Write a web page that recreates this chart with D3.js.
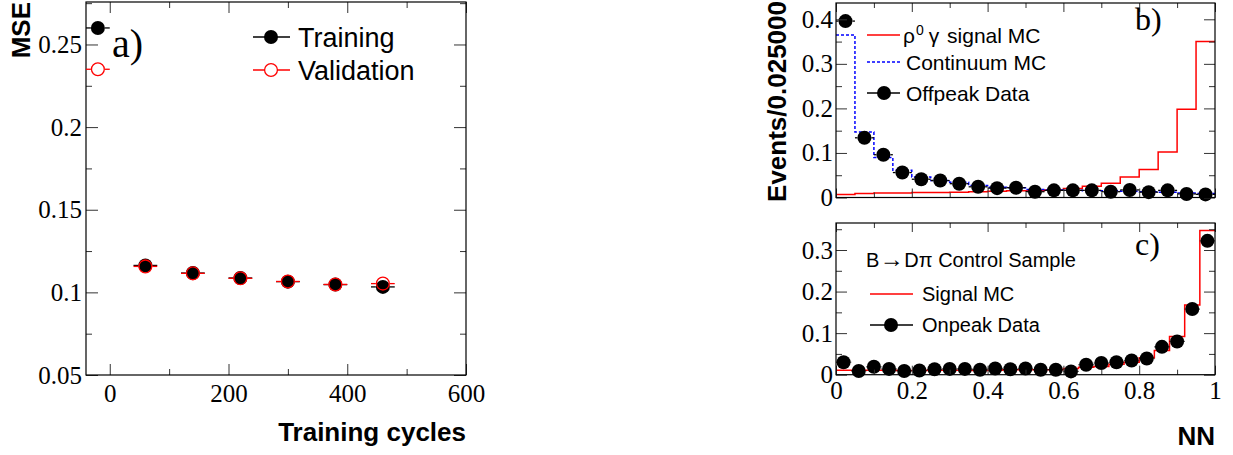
<!DOCTYPE html>
<html>
<head>
<meta charset="utf-8">
<script src="https://cdn.jsdelivr.net/npm/d3@7"></script>
<style>
  html, body { margin: 0; padding: 0; background: #fff; }
  svg { display: block; }
</style>
</head>
<body>
<script>
// ---- Panel a: neural-network training history ----
const cycles         = [-20, 60, 140, 220, 300, 380, 460];
const mseTraining    = [0.260, 0.1163, 0.1117, 0.1087, 0.1065, 0.1047, 0.1033];
const mseValidation  = [0.235, 0.1157, 0.1115, 0.1085, 0.1066, 0.1048, 0.1053];
const cycleHalfWidth = 20;
const cycleTicks      = [0, 200, 400, 600];
const cycleMinorTicks = [100, 300, 500];
const mseTicks        = [0.05, 0.1, 0.15, 0.2, 0.25];
const mseMinorTicks   = [0.075, 0.125, 0.175, 0.225, 0.275];

// ---- Panel b: NN output, rho0 gamma signal vs continuum ----
const nnEdgesB = [0, 0.05, 0.1, 0.15, 0.2, 0.25, 0.3, 0.35, 0.4, 0.45, 0.5,
                  0.55, 0.6, 0.65, 0.7, 0.75, 0.8, 0.85, 0.9, 0.95, 1];
const signalB    = [0.007, 0.009, 0.010, 0.010, 0.011, 0.011, 0.012, 0.013, 0.014, 0.015,
                    0.015, 0.017, 0.020, 0.025, 0.032, 0.046, 0.063, 0.102, 0.198, 0.350];
const continuumB = [0.365, 0.147, 0.090, 0.061, 0.046, 0.038, 0.034, 0.027, 0.023, 0.022,
                    0.018, 0.017, 0.016, 0.015, 0.015, 0.014, 0.013, 0.012, 0.010, 0.009];
const offpeakB   = [0.396, 0.134, 0.096, 0.056, 0.041, 0.038, 0.031, 0.024, 0.021, 0.022,
                    0.013, 0.016, 0.016, 0.016, 0.013, 0.017, 0.012, 0.016, 0.008, 0.007];
const eventsTicksB      = [0, 0.1, 0.2, 0.3, 0.4];
const eventsMinorTicksB = [0.05, 0.15, 0.25, 0.35];

// ---- Panel c: B -> D pi control sample ----
const nnEdgesC = [0, 0.04, 0.08, 0.12, 0.16, 0.2, 0.24, 0.28, 0.32, 0.36, 0.4, 0.44, 0.48,
                  0.52, 0.56, 0.6, 0.64, 0.68, 0.72, 0.76, 0.8, 0.84, 0.88, 0.92, 0.96, 1];
const signalC = [0.011, 0.011, 0.011, 0.011, 0.010, 0.010, 0.011, 0.011, 0.011, 0.010,
                 0.011, 0.012, 0.012, 0.012, 0.012, 0.015, 0.018, 0.020, 0.025, 0.030,
                 0.041, 0.058, 0.092, 0.168, 0.347];
const onpeakC = [0.030, 0.009, 0.019, 0.014, 0.009, 0.010, 0.013, 0.014, 0.014, 0.012,
                 0.015, 0.013, 0.015, 0.012, 0.012, 0.008, 0.024, 0.028, 0.030, 0.034,
                 0.039, 0.067, 0.080, 0.158, 0.322];
const eventsTicksC      = [0, 0.1, 0.2, 0.3];
const eventsMinorTicksC = [0.05, 0.15, 0.25, 0.35];
const nnTicks      = [0, 0.2, 0.4, 0.6, 0.8, 1];
const nnMinorTicks = [0.1, 0.3, 0.5, 0.7, 0.9];

const SERIF = "'Liberation Serif', 'Times New Roman', serif";
const SANS  = "'Liberation Sans', Arial, Helvetica, sans-serif";
const RED = "#ff0000", BLUE = "#0000ff";

const svg = d3.select("body").append("svg")
  .attr("width", 1233).attr("height", 455);
svg.append("rect").attr("width", 1233).attr("height", 455).attr("fill", "#fff");

const fmt = d => String(+d.toFixed(3));

// Draws a framed box with inward ticks on all four sides.
function drawFrame(g, x, y, o) {
  const [x0, x1] = x.range();
  const [y1, y0] = y.range();
  const style = sel => {
    sel.select(".domain").remove();
    sel.selectAll(".tick line").attr("stroke", "#333").attr("stroke-width", 1);
    sel.selectAll(".tick text")
      .attr("font-family", SERIF).attr("font-size", 25).attr("fill", "#000");
  };
  // left
  g.append("g").attr("transform", `translate(${x0},0)`)
    .call(d3.axisLeft(y).tickValues(o.yMajor).tickSize(-o.yMajorLen)
      .tickPadding(o.yPad).tickFormat(fmt)).call(style);
  g.append("g").attr("transform", `translate(${x0},0)`)
    .call(d3.axisLeft(y).tickValues(o.yMinor).tickSize(-o.yMinorLen).tickFormat(""))
    .call(style);
  // right
  g.append("g").attr("transform", `translate(${x1},0)`)
    .call(d3.axisRight(y).tickValues(o.yMajor).tickSize(-o.yMajorLen).tickFormat(""))
    .call(style);
  g.append("g").attr("transform", `translate(${x1},0)`)
    .call(d3.axisRight(y).tickValues(o.yMinor).tickSize(-o.yMinorLen).tickFormat(""))
    .call(style);
  // bottom
  const bottom = d3.axisBottom(x).tickValues(o.xMajor).tickSize(-o.xMajorLen)
    .tickPadding(o.xPad).tickFormat(o.xLabels ? fmt : "");
  g.append("g").attr("transform", `translate(0,${y1})`).call(bottom).call(style);
  g.append("g").attr("transform", `translate(0,${y1})`)
    .call(d3.axisBottom(x).tickValues(o.xMinor).tickSize(-o.xMinorLen).tickFormat(""))
    .call(style);
  // top
  g.append("g").attr("transform", `translate(0,${y0})`)
    .call(d3.axisTop(x).tickValues(o.xMajor).tickSize(-o.xMajorLen).tickFormat(""))
    .call(style);
  g.append("g").attr("transform", `translate(0,${y0})`)
    .call(d3.axisTop(x).tickValues(o.xMinor).tickSize(-o.xMinorLen).tickFormat(""))
    .call(style);
  g.append("rect").attr("x", x0).attr("y", y0)
    .attr("width", x1 - x0).attr("height", y1 - y0)
    .attr("fill", "none").attr("stroke", "#000").attr("stroke-width", 1.2);
}

// Step outline of a binned histogram.
function histPath(x, y, edges, values) {
  const pts = [];
  values.forEach((v, i) => { pts.push([edges[i], v]); pts.push([edges[i + 1], v]); });
  return d3.line().x(d => x(d[0])).y(d => y(d[1]))(pts);
}

// Points with horizontal error bars (bars drawn outside the marker).
function drawPoints(g, x, y, xs, vals, halfW, r, color, filled) {
  const pg = g.append("g");
  xs.forEach((xv, i) => {
    const cx = x(xv), cy = y(vals[i]);
    const xl = x(xv - halfW), xr = x(xv + halfW);
    if (cx - r > xl) pg.append("line").attr("x1", xl).attr("x2", cx - r)
      .attr("y1", cy).attr("y2", cy).attr("stroke", color).attr("stroke-width", 1.3);
    if (xr > cx + r) pg.append("line").attr("x1", cx + r).attr("x2", xr)
      .attr("y1", cy).attr("y2", cy).attr("stroke", color).attr("stroke-width", 1.3);
    pg.append("circle").attr("cx", cx).attr("cy", cy).attr("r", filled ? r : r - 0.6)
      .attr("fill", filled ? color : "none")
      .attr("stroke", color).attr("stroke-width", filled ? 0 : 1.3);
  });
}

// ================= Panel a =================
{
  const x = d3.scaleLinear().domain([-40, 600]).range([86, 466]);
  const y = d3.scaleLinear().domain([0.05, 0.2757]).range([375, 2]);
  const g = svg.append("g");
  drawFrame(g, x, y, {
    yMajor: mseTicks, yMinor: mseMinorTicks, yMajorLen: 12, yMinorLen: 6, yPad: 4,
    xMajor: cycleTicks, xMinor: cycleMinorTicks, xMajorLen: 11, xMinorLen: 6, xPad: 9,
    xLabels: true
  });
  drawPoints(g, x, y, cycles, mseTraining, cycleHalfWidth, 7, "#000", true);
  drawPoints(g, x, y, cycles, mseValidation, cycleHalfWidth, 7, RED, false);

  g.append("text").attr("x", 112).attr("y", 57)
    .attr("font-family", SERIF).attr("font-size", 40).text("a)");

  // legend
  const leg = [
    { label: "Training", color: "#000", filled: true, cy: 37 },
    { label: "Validation", color: RED, filled: false, cy: 70 }
  ];
  leg.forEach(d => {
    g.append("line").attr("x1", 253).attr("x2", 290).attr("y1", d.cy).attr("y2", d.cy)
      .attr("stroke", d.color).attr("stroke-width", 1.3);
    g.append("circle").attr("cx", 271).attr("cy", d.cy).attr("r", d.filled ? 7 : 6.4)
      .attr("fill", d.filled ? d.color : "#fff").attr("stroke", d.color)
      .attr("stroke-width", d.filled ? 0 : 1.3);
    g.append("text").attr("x", 298).attr("y", d.cy + 9.5)
      .attr("font-family", SANS).attr("font-size", 27).text(d.label);
  });

  g.append("text").attr("x", 466).attr("y", 441).attr("text-anchor", "end")
    .attr("font-family", SANS).attr("font-weight", "bold").attr("font-size", 26)
    .text("Training cycles");
  g.append("text").attr("transform", "translate(29.5,2) rotate(-90)")
    .attr("text-anchor", "end")
    .attr("font-family", SANS).attr("font-weight", "bold").attr("font-size", 26)
    .text("MSE");
}

// ================= Panel b =================
{
  const x = d3.scaleLinear().domain([0, 1]).range([836, 1215]);
  const y = d3.scaleLinear().domain([0, 0.4366]).range([197.5, 3]);
  const g = svg.append("g");
  svg.append("clipPath").attr("id", "clipB").append("rect")
    .attr("x", 836).attr("y", 3).attr("width", 379).attr("height", 194.5);
  const plot = g.append("g").attr("clip-path", "url(#clipB)");
  plot.append("path").attr("d", histPath(x, y, nnEdgesB, signalB))
    .attr("fill", "none").attr("stroke", RED).attr("stroke-width", 1.5);
  plot.append("path").attr("d", histPath(x, y, nnEdgesB, continuumB))
    .attr("fill", "none").attr("stroke", BLUE).attr("stroke-width", 1.5)
    .attr("stroke-dasharray", "3,2");
  const centers = offpeakB.map((_, i) => (nnEdgesB[i] + nnEdgesB[i + 1]) / 2);
  drawPoints(g, x, y, centers, offpeakB, 0.025, 7, "#000", true);

  drawFrame(g, x, y, {
    yMajor: eventsTicksB, yMinor: eventsMinorTicksB, yMajorLen: 11, yMinorLen: 6, yPad: 3,
    xMajor: nnTicks, xMinor: nnMinorTicks, xMajorLen: 9, xMinorLen: 5, xPad: 6,
    xLabels: false
  });

  g.append("text").attr("x", 1135).attr("y", 30)
    .attr("font-family", SERIF).attr("font-size", 32).text("b)");

  // legend
  g.append("line").attr("x1", 867).attr("x2", 900).attr("y1", 35).attr("y2", 35)
    .attr("stroke", RED).attr("stroke-width", 1.5);
  const t1 = g.append("text").attr("x", 903).attr("y", 42.5)
    .attr("font-family", SANS).attr("font-size", 21);
  t1.append("tspan").text("ρ");
  t1.append("tspan").attr("dx", 1).attr("dy", -8).attr("font-size", 14).text("0");
  t1.append("tspan").attr("dx", 5).attr("dy", 8).text("γ");
  t1.append("tspan").attr("dx", 2).text(" signal MC");

  g.append("line").attr("x1", 867).attr("x2", 900).attr("y1", 62).attr("y2", 62)
    .attr("stroke", BLUE).attr("stroke-width", 1.5).attr("stroke-dasharray", "3,2");
  g.append("text").attr("x", 906).attr("y", 69.5)
    .attr("font-family", SANS).attr("font-size", 21).text("Continuum MC");

  g.append("line").attr("x1", 867).attr("x2", 900).attr("y1", 93).attr("y2", 93)
    .attr("stroke", "#000").attr("stroke-width", 1.3);
  g.append("circle").attr("cx", 884).attr("cy", 93).attr("r", 7).attr("fill", "#000");
  g.append("text").attr("x", 906).attr("y", 100.5)
    .attr("font-family", SANS).attr("font-size", 21).text("Offpeak Data");

  g.append("text").attr("transform", "translate(786,1) rotate(-90)")
    .attr("text-anchor", "end")
    .attr("font-family", SANS).attr("font-weight", "bold").attr("font-size", 26)
    .text("Events/0.025000");
}

// ================= Panel c =================
{
  const x = d3.scaleLinear().domain([0, 1]).range([836, 1215]);
  const y = d3.scaleLinear().domain([0, 0.365]).range([374.7, 223]);
  const g = svg.append("g");
  svg.append("clipPath").attr("id", "clipC").append("rect")
    .attr("x", 836).attr("y", 223).attr("width", 379).attr("height", 151.7);
  const plot = g.append("g").attr("clip-path", "url(#clipC)");
  plot.append("path").attr("d", histPath(x, y, nnEdgesC, signalC))
    .attr("fill", "none").attr("stroke", RED).attr("stroke-width", 1.5);
  const centers = onpeakC.map((_, i) => (nnEdgesC[i] + nnEdgesC[i + 1]) / 2);
  drawPoints(g, x, y, centers, onpeakC, 0.02, 7, "#000", true);

  drawFrame(g, x, y, {
    yMajor: eventsTicksC, yMinor: eventsMinorTicksC, yMajorLen: 11, yMinorLen: 6, yPad: 3,
    xMajor: nnTicks, xMinor: nnMinorTicks, xMajorLen: 9, xMinorLen: 5, xPad: 6.5,
    xLabels: true
  });

  g.append("text").attr("x", 1135).attr("y", 255)
    .attr("font-family", SERIF).attr("font-size", 32).text("c)");

  const t2 = g.append("text").attr("x", 866).attr("y", 267)
    .attr("font-family", SANS).attr("font-size", 20);
  t2.append("tspan").text("B");
  t2.append("tspan").attr("font-family", SERIF)
    .attr("font-size", 24).attr("dx", 0.5).text("→");
  t2.append("tspan").attr("dx", 0.5).text("Dπ Control Sample");

  g.append("line").attr("x1", 870).attr("x2", 913).attr("y1", 294).attr("y2", 294)
    .attr("stroke", RED).attr("stroke-width", 1.5);
  g.append("text").attr("x", 922).attr("y", 301)
    .attr("font-family", SANS).attr("font-size", 20).text("Signal MC");

  g.append("line").attr("x1", 870).attr("x2", 913).attr("y1", 325).attr("y2", 325)
    .attr("stroke", "#000").attr("stroke-width", 1.3);
  g.append("circle").attr("cx", 891).attr("cy", 325).attr("r", 7).attr("fill", "#000");
  g.append("text").attr("x", 922).attr("y", 332)
    .attr("font-family", SANS).attr("font-size", 20).text("Onpeak Data");

  g.append("text").attr("x", 1215).attr("y", 445).attr("text-anchor", "end")
    .attr("font-family", SANS).attr("font-weight", "bold").attr("font-size", 26)
    .text("NN");
}
</script>
</body>
</html>
